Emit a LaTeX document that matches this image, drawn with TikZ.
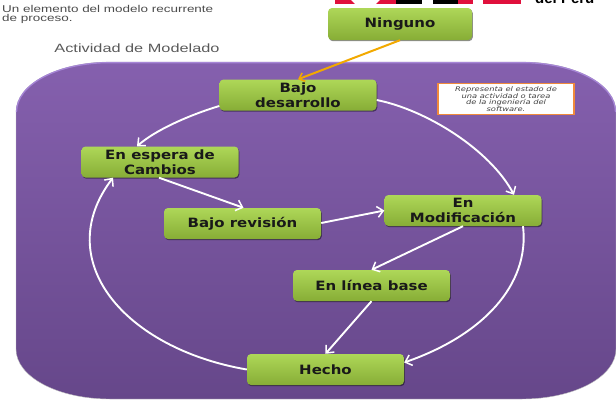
\documentclass[tikz,border=0pt]{standalone}
\usepackage{fontspec}
\setmainfont{DejaVu Sans}
\newfontfamily\lib{Liberation Sans}
\newfontfamily\libwide[FakeStretch=1.36]{Liberation Sans}
\newfontfamily\boxfont[FakeStretch=1.17]{DejaVu Sans}
\newfontfamily\notefont[FakeStretch=1.3]{DejaVu Sans}
\usetikzlibrary{arrows.meta,shadows,calc}
\definecolor{panelTop}{HTML}{8560AE}
\definecolor{panelBot}{HTML}{66478A}
\definecolor{panelRim}{HTML}{A686D6}
\definecolor{boxTop}{HTML}{AED758}
\definecolor{boxBot}{HTML}{87AD36}
\definecolor{noteEdge}{HTML}{F08A3C}
\definecolor{logoRed}{HTML}{E0103C}
\definecolor{gold}{HTML}{F2A900}
\tikzset{
  state/.style={rectangle,rounded corners=4pt,minimum width=157pt,minimum height=31pt,inner sep=0pt,
    top color=boxTop,bottom color=boxBot,align=center,text=black!90,
    font=\boxfont\fontsize{12.8}{15.5}\selectfont\bfseries,
    drop shadow={shadow xshift=0.8pt,shadow yshift=-1.2pt,opacity=.45,fill=black}},
  flow/.style={white,line width=1.9pt,-{Straight Barb[length=6pt,width=11pt,line width=1.5pt]}},
  enter/.style={draw=gold,line width=2pt,-{Straight Barb[length=5pt,width=9pt,line width=1.5pt]}},
  caption/.style={inner sep=0pt,text=black!70,align=left,font=\libwide\fontsize{9.9}{9.5}\selectfont}
}
\begin{document}
\begin{tikzpicture}[x=1pt,y=-1pt]
\useasboundingbox (0,0) rectangle (616,407);
% logo fragment
\fill[logoRed] (335,0) rectangle (396,3.8);
\fill[white] (351,0) -- (380,0) -- (376,3.8) -- (355,3.8) -- cycle;
\fill[black] (396,0) rectangle (458,3.8);
\fill[white] (422,0) rectangle (433,3.8);
\fill[logoRed] (458,0) rectangle (521,3.8);
\fill[white] (473,0) rectangle (483,3.8);
\node[anchor=base west,inner sep=0pt,font=\lib\fontsize{15}{15}\selectfont\bfseries,text=black] (peru) at (535,3) {del Perú};
% texts
\node[caption,anchor=north west] (intro) at (2,5) {Un elemento del modelo recurrente\\de proceso.};
\node[anchor=center,inner sep=0pt,text=black!65,font=\libwide\fontsize{12}{12}\selectfont] (title) at (137,48) {Actividad de Modelado};
% panel
\path[top color=panelTop,bottom color=panelBot,draw=black!25,line width=.4pt]
  (110,62) -- (522,62) .. controls (574,62) and (616,84) .. (616,112)
  -- (616,349) .. controls (616,377) and (574,399) .. (522,399)
  -- (110,399) .. controls (58,399) and (16,377) .. (16,349)
  -- (16,112) .. controls (16,84) and (58,62) .. (110,62) -- cycle;
\draw[panelRim,line width=1.3pt] (16.5,112) .. controls (16.5,84) and (58,62.6) .. (110,62.6) -- (522,62.6) .. controls (574,62.6) and (615.5,84) .. (615.5,112);
% note
\node[draw=noteEdge,line width=1.8pt,fill=white,minimum width=136pt,minimum height=31pt,inner sep=0pt,align=center,text=black!75,
  font=\notefont\fontsize{6.4}{6.7}\selectfont\itshape] (note) at (506,99) {Representa el estado de\\una actividad o tarea\\de la ingeniería del\\software.};
% states
\node[state,minimum width=144pt,minimum height=32pt] (ninguno) at (400,24) {Ninguno};
\node[state] (bajo) at (298,95) {Bajo\\desarrollo};
\node[state] (espera) at (160,162) {En espera de\\Cambios};
\node[state] (revision) at (242.5,223.5) {Bajo revisión};
\node[state] (modif) at (463,210.5) {En\\Modificación};
\node[state] (base) at (371.5,285.5) {En línea base};
\node[state] (hecho) at (325.5,369.5) {Hecho};
% connectors
\draw[enter] (ninguno.south) -- (bajo.north);
\draw[flow] ([yshift=-11pt]bajo.west) .. controls +(-30,9) and +(18,-16) .. ([xshift=-23pt]espera.north);
\draw[flow] ([yshift=-5pt]bajo.east) .. controls +(50,10) and +(-24,-45) .. ([xshift=51pt]modif.north);
\draw[flow] ([xshift=-1pt]espera.south) -- ([xshift=1pt]revision.north);
\draw[flow] ([yshift=0.5pt]revision.east) -- (modif.west);
\draw[flow] (modif.south) -- (base.north);
\draw[flow] (base.south) -- (hecho.north);
\draw[flow] ([xshift=60pt]modif.south) .. controls +(7,59) and +(78,-27) .. ([yshift=7pt]hecho.east);
\draw[flow] (hecho.west) .. controls +(-122,-21) and +(-63,83) .. ([xshift=-47pt]espera.south);
\end{tikzpicture}
\end{document}
